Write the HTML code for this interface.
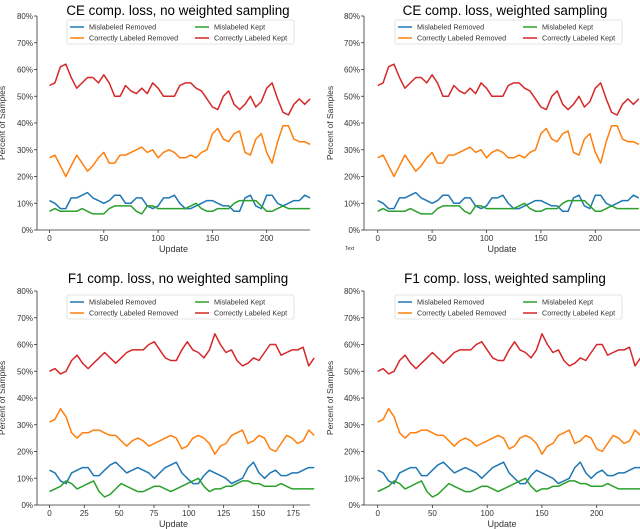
<!DOCTYPE html>
<html><head><meta charset="utf-8"><style>
body{margin:0;background:#fff;width:640px;height:529px;overflow:hidden}
svg{display:block;font-family:"Liberation Sans",sans-serif}
</style></head><body>
<svg id="fig" width="640" height="529" viewBox="0 0 640 529" xmlns="http://www.w3.org/2000/svg"></svg>
<script>
// Top row data (sampled every 1/48 of the update range)
const topBlue=[11,10,8,8,12,12,13,14,12,11,10,11,13,13,10,10,12,12,9,8,9,12,12,13,10,8,8,9,10,11,11,10,9,9,7,7,12,13,9,8,13,13,10,9,10,11,11,13,12];
const topOrange=[27,28,24,20,24,28,25,22,24,27,29,25,25,28,28,29,30,31,29,30,27,29,30,29,27,27,28,27,29,30,36,38,34,33,36,37,29,28,34,36,29,25,33,39,39,34,33,33,32];
const topGreen=[7,8,7,7,7,7,8,7,6,6,6,8,9,9,9,9,7,6,9,9,8,8,8,8,8,8,9,10,8,7,7,8,8,8,10,11,11,11,11,9,7,7,8,9,8,8,8,8,8];
const topRed=[54,55,61,62,57,53,55,57,57,55,58,55,50,50,54,52,51,53,51,55,53,50,50,50,54,55,55,53,52,49,46,45,50,52,47,45,47,50,46,48,53,55,49,44,43,47,49,47,49];
// Bottom row data
const botBlue=[13,12,9,8,12,13,14,14,11,11,13,15,16,14,12,13,14,13,12,10,12,14,15,16,12,10,8,8,11,13,12,11,10,8,9,10,14,16,12,10,12,13,11,11,12,12,13,14,14];
const botOrange=[31,32,36,33,27,25,27,27,28,28,27,26,26,24,22,24,25,24,22,23,24,25,26,25,21,22,25,26,25,23,19,22,23,26,27,28,23,24,26,25,21,20,23,26,25,23,24,28,26];
const botGreen=[5,6,7,9,8,6,7,8,9,5,3,4,6,8,7,6,5,5,6,7,7,6,5,6,7,8,9,10,7,5,6,6,7,7,8,9,9,8,8,7,7,7,8,7,6,6,6,6,6];
const botRed=[50,51,49,50,54,56,53,51,53,55,57,55,53,55,57,58,58,58,60,61,58,55,54,54,58,61,58,57,55,58,64,60,57,58,54,52,53,55,54,57,60,60,56,57,58,58,59,52,55];
const yTicks=[0,10,20,30,40,50,60,70,80];
const xTicksA=[0,50,100,150,200];
const xTicksB=[0,25,50,75,100,125,150,175];
const legendLabels=["Mislabeled Removed","Mislabeled Kept","Correctly Labeled Removed","Correctly Labeled Kept"];
const colors={blue:"#1f77b4",orange:"#ff7f0e",green:"#2ca02c",red:"#d62728"};

const NS="http://www.w3.org/2000/svg";
const svg=document.getElementById('fig');
function mk(tag,attrs,parent,text){const e=document.createElementNS(NS,tag);for(const k in attrs)e.setAttribute(k,attrs[k]);if(text!==undefined)e.textContent=text;(parent||svg).appendChild(e);return e;}

const panels=[
 {title:"CE comp. loss, no weighted sampling",ox:0,top:16,bot:230,x0:49.5,ppu:1.086,uMax:240,xEnd:310,ticks:xTicksA,data:[topBlue,topOrange,topGreen,topRed],ty:15,lx:67,name:"ce-no-weighted"},
 {title:"CE comp. loss, weighted sampling",ox:320,top:16,bot:230,x0:57.7,ppu:1.088,uMax:240,xEnd:320,ticks:xTicksA,data:[topBlue,topOrange,topGreen,topRed],ty:15,lx:75,name:"ce-weighted"},
 {title:"F1 comp. loss, no weighted sampling",ox:0,top:291,bot:505,x0:49.5,ppu:1.393,uMax:190,xEnd:310,ticks:xTicksB,data:[botBlue,botOrange,botGreen,botRed],ty:283,lx:67,name:"f1-no-weighted"},
 {title:"F1 comp. loss, weighted sampling",ox:320,top:291,bot:505,x0:57.7,ppu:1.095,uMax:240,xEnd:320,ticks:xTicksA,data:[botBlue,botOrange,botGreen,botRed],ty:283,lx:75,name:"f1-weighted"}
];
panels.forEach((p,pi)=>{
 const g=mk('g',{},svg);
 
 
 const sx=p.ox+(pi%2?44:37);
 const xs=u=>p.ox+p.x0+u*p.ppu;
 const ys=v=>p.bot-(v/80)*(p.bot-p.top);
 const t=mk('text',{x:p.ox+(pi%2?185:178),y:p.ty,'text-anchor':'middle','font-size':13.4,fill:'#000'},g,p.title);
 
 
 const ax=mk('path',{d:`M${sx},${p.top}V${p.bot}H${p.ox+p.xEnd}`,stroke:'#333',fill:'none','stroke-width':0.8},g);
 
 
 yTicks.forEach(v=>{
  mk('line',{x1:sx-3,x2:sx,y1:ys(v),y2:ys(v),stroke:'#333','stroke-width':0.8},g);
  const l=mk('text',{x:sx-4,y:ys(v)+3,'text-anchor':'end','font-size':8,fill:'#333'},g,v+'%');
  
  
 });
 p.ticks.forEach(v=>{
  mk('line',{x1:xs(v),x2:xs(v),y1:p.bot,y2:p.bot+3,stroke:'#333','stroke-width':0.8},g);
  const l=mk('text',{x:xs(v),y:p.bot+11,'text-anchor':'middle','font-size':8,fill:'#333'},g,String(v));
  
  
 });
 const xt=mk('text',{x:(sx+p.ox+p.xEnd)/2,y:p.bot+22,'text-anchor':'middle','font-size':9,fill:'#333'},g,'Update');
 
 
 const yx=p.ox+(pi%2?13:5),yy=(p.top+p.bot)/2;
 const yt=mk('text',{x:yx,y:yy,'text-anchor':'middle','font-size':8.5,fill:'#333',transform:`rotate(-90 ${yx} ${yy})`},g,'Percent of Samples');
 
 
 const cols=[colors.blue,colors.orange,colors.green,colors.red];
 const names=['mislabeled-removed','correctly-labeled-removed','mislabeled-kept','correctly-labeled-kept'];
 p.data.forEach((arr,si)=>{
  const step=p.uMax/(arr.length-1);
  const d=arr.map((v,i)=>(i?'L':'M')+xs(i*step).toFixed(1)+','+ys(v).toFixed(1)).join('');
  const ln=mk('path',{d:d,stroke:cols[si],fill:'none','stroke-width':1.5,'stroke-linejoin':'round'},g);
  
  
 });
 const lg=mk('g',{},g);
 
 
 const lx=p.ox+p.lx,ly=p.top+4;
 mk('rect',{x:lx,y:ly,width:227,height:24,fill:'#fff',stroke:'#ddd','stroke-width':0.8,rx:2},lg);
 const lcol=[colors.blue,colors.green,colors.orange,colors.red];
 legendLabels.forEach((lab,i)=>{
  const cx=lx+3+(i%2)*125,cy=ly+7+Math.floor(i/2)*11;
  mk('line',{x1:cx,x2:cx+14,y1:cy,y2:cy,stroke:lcol[i],'stroke-width':1.5},lg);
  const tx=mk('text',{x:cx+19,y:cy+2.5,'font-size':7.2,fill:'#333'},lg,lab);
  
  
 });
});
const tt=mk('text',{x:345,y:250,'font-size':5,fill:'#333'},svg,'Text');


</script>
</body></html>
